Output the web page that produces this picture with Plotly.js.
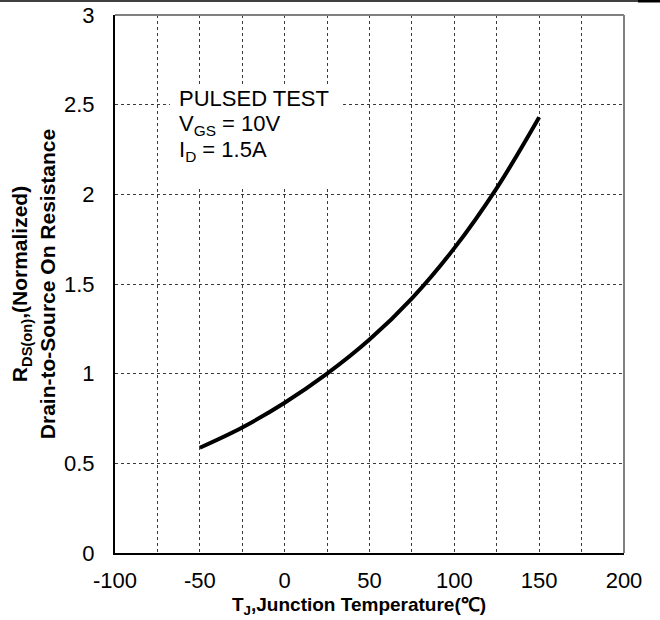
<!DOCTYPE html>
<html>
<head>
<meta charset="utf-8">
<script src="https://cdn.plot.ly/plotly-3.0.1.min.js"></script>
<style>html,body{margin:0;padding:0;background:#fff;}#chart{width:660px;height:620px;}</style>
</head>
<body>
<div id="chart"></div>
<script>
// Data
var tempC = [-50, -25, 0, 25, 50, 75, 100, 125, 150];
var rdsNorm = [0.587, 0.70, 0.838, 1.0, 1.19, 1.42, 1.70, 2.035, 2.43];
var xTicks = [-100, -50, 0, 50, 100, 150, 200];
var yTicks = [0, 0.5, 1, 1.5, 2, 2.5, 3];
var yTickText = ['0', '0.5', '1', '1.5', '2', '2.5', '3'];
var noteLines = ['PULSED TEST', 'V<sub>GS</sub> = 10V', 'I<sub>D</sub> = 1.5A'];
var noteY = [2.534, 2.389, 2.244];
var xTitle = 'T<sub>J</sub>,Junction Temperature(℃)';
var yTitle = 'R<sub>DS(on)</sub>,(Normalized)<br>Drain-to-Source On Resistance';

var FONT = 'Arial, "Liberation Sans", sans-serif';

var trace = {
  x: tempC, y: rdsNorm, type: 'scatter', mode: 'lines',
  line: {color: '#000', width: 4, shape: 'spline', smoothing: 1},
  hoverinfo: 'skip', showlegend: false
};

var gridCol = '#3a3a3a';
var notes = noteLines.map(function (t, i) {
  return {xref: 'x', yref: 'y', x: -62.9, y: noteY[i], xanchor: 'left', yanchor: 'middle',
    text: t, align: 'left', showarrow: false, borderpad: 0,
    font: {family: FONT, size: 22, color: '#000'}};
});
notes.push({xref: 'paper', yref: 'paper', x: 0.479, y: -53 / 538, xanchor: 'center', yanchor: 'middle',
  text: xTitle, showarrow: false, borderpad: 0,
  font: {family: FONT, size: 19, color: '#000', weight: 'bold'}});

var layout = {
  width: 660, height: 620,
  margin: {l: 115, r: 36, t: 15, b: 67, pad: 0},
  paper_bgcolor: '#fff', plot_bgcolor: '#fff',
  font: {family: FONT, color: '#000', size: 22},
  xaxis: {
    range: [-100, 200], tickvals: xTicks, ticktext: xTicks.map(String),
    showgrid: true, gridcolor: gridCol, gridwidth: 1, griddash: 'dot',
    minor: {tickvals: [-75, -25, 25, 75, 125, 175], showgrid: true, gridcolor: gridCol, gridwidth: 1, griddash: 'dot'},
    zeroline: false, showline: true, linecolor: '#000', linewidth: 2,
    ticks: '', ticklabelstandoff: 7,
    tickfont: {family: FONT, size: 22, color: '#000'},
    fixedrange: true
  },
  yaxis: {
    range: [0, 3], tickvals: yTicks, ticktext: yTickText,
    showgrid: true, gridcolor: gridCol, gridwidth: 1, griddash: 'dot',
    zeroline: false, showline: true, linecolor: '#000', linewidth: 2,
    ticks: '', ticklabelstandoff: 14,
    tickfont: {family: FONT, size: 22, color: '#000'},
    title: {text: yTitle, font: {family: FONT, size: 21, color: '#000', weight: 'bold'}, standoff: 3},
    fixedrange: true
  },
  shapes: [
    // white box behind the note text (covers grid)
    {type: 'rect', xref: 'x', yref: 'y', x0: -67.6, x1: 34.4, y0: 2.04, y1: 2.60,
     fillcolor: '#fff', line: {width: 0}, layer: 'between'},
    // gray top and right frame
    {type: 'line', xref: 'paper', yref: 'paper', x0: 0, x1: 1, y0: 1, y1: 1, line: {color: '#808080', width: 2}},
    {type: 'line', xref: 'paper', yref: 'paper', x0: 1, x1: 1, y0: 0, y1: 1, line: {color: '#808080', width: 2}},
    // page rule at very top
    {type: 'line', xref: 'paper', yref: 'paper', x0: -115/509, x1: 545/509, y0: 1 + 14/538, y1: 1 + 14/538, line: {color: '#000', width: 1.5}},
    {type: 'line', xref: 'paper', yref: 'paper', x0: 523/509, x1: 545/509, y0: 1 + 14/538, y1: 1 + 14/538, line: {color: '#000', width: 3}}
  ],
  annotations: notes
};

Plotly.newPlot('chart', [trace], layout, {displayModeBar: false, staticPlot: true});
</script>
</body>
</html>
